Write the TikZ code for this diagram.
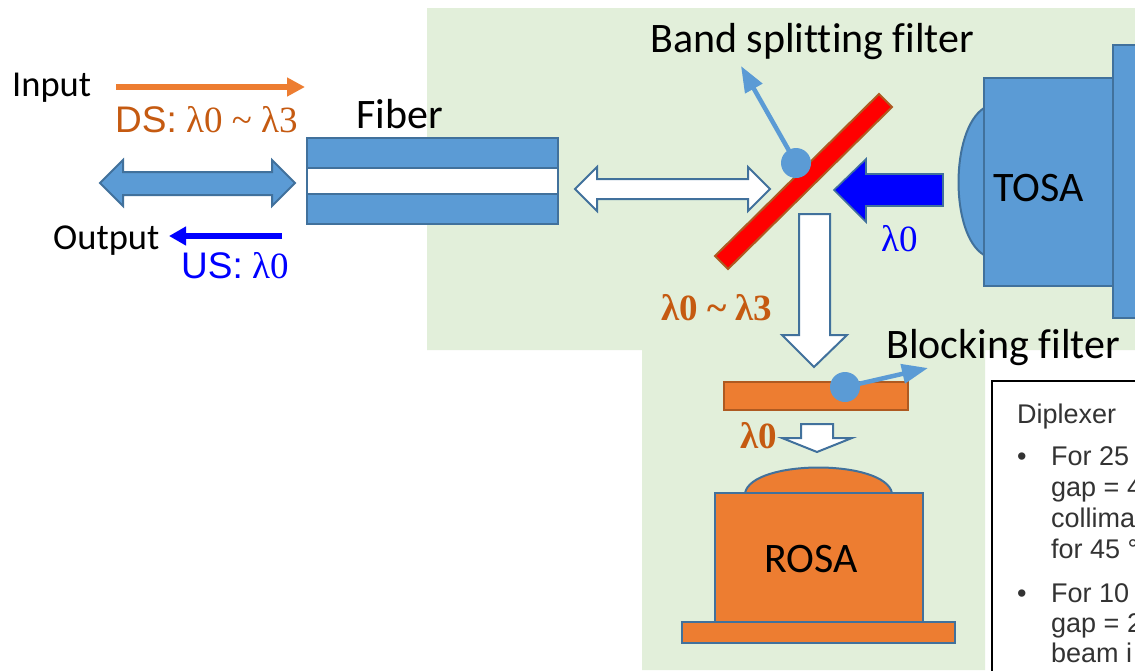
\documentclass[tikz,border=0pt]{standalone}
\usepackage{fontspec}
\setmainfont{Carlito}[Ligatures=NoCommon]
\newfontfamily\arialfont{Liberation Sans}
\newfontfamily\timesfont{Liberation Serif}
\usetikzlibrary{arrows.meta}
\definecolor{bluefill}{HTML}{5B9BD5}
\definecolor{blueline}{HTML}{41719C}
\definecolor{orangefill}{HTML}{ED7D31}
\definecolor{orangeline}{HTML}{AE5A21}
\definecolor{orangetext}{HTML}{C55A11}
\definecolor{greenback}{HTML}{E2EFDA}
\definecolor{purewhite}{HTML}{FFFFFF}
\definecolor{pureblue}{HTML}{0000FF}
\definecolor{boxtext}{HTML}{333333}
\newcommand{\wavetilde}{\char`\~}
\tikzset{
  label/.style={anchor=base west,inner sep=0pt,font=\fontsize{42}{46}\selectfont},
  sidelabel/.style={anchor=base west,inner sep=0pt,font=\fontsize{36.5}{40}\selectfont},
  wave/.style={anchor=base west,inner sep=0pt,font=\fontsize{37}{40}\selectfont\timesfont},
  boldwave/.style={anchor=base west,inner sep=0pt,text=orangetext,font=\fontsize{37}{40}\selectfont\timesfont\bfseries},
  boxline/.style={anchor=base west,inner sep=0pt,text=boxtext,font=\fontsize{27}{30}\selectfont\arialfont},
  bluebox/.style={fill=bluefill,draw=blueline,line width=2pt},
  orangebox/.style={fill=orangefill,draw=blueline,line width=2pt},
  whitearrow/.style={fill=purewhite,draw=blueline,line width=2pt},
  dot/.style={circle,fill=bluefill,inner sep=0pt,minimum size=30pt},
  pointer/.style={bluefill,line width=4.5pt,-{Triangle[length=26pt,width=19pt]},shorten <=-2pt},
}
\begin{document}
\begin{tikzpicture}[x=1pt,y=-1pt]
  \useasboundingbox (0,0) rectangle (1135,670);
  \clip (0,0) rectangle (1135,670);
  \fill[white] (0,0) rectangle (1135,670);

  % Green area
  \fill[greenback] (427,8) -- (1135,8) -- (1135,350) -- (985,350) -- (985,670) -- (642,670) -- (642,350) -- (427,350) -- cycle;

  % Input and output
  \node[sidelabel] (input) at (12,96) {Input};
  \node[sidelabel] (output) at (53,249) {Output};
  \coordinate (dsstart) at (116,87);
  \coordinate (dsend) at (305,87);
  \coordinate (usstart) at (282,236);
  \coordinate (usend) at (169,236);
  \draw[orangefill,line width=5.5pt,-{Triangle[length=18pt,width=18pt]}] (dsstart) -- (dsend);
  \draw[pureblue,line width=6pt,-{Triangle[length=17pt,width=18pt]}] (usstart) -- (usend);
  \node[wave,text=orangetext] (dslabel) at (115,132) {{\arialfont DS:} λ0 \wavetilde{} λ3};
  \node[wave,text=pureblue] (uslabel) at (181,278) {{\arialfont US:} λ0};

  % Double arrow left of the fiber
  \draw[bluebox] (100,183) -- (123,160) -- (123,172) -- (272,172) -- (272,160) -- (295,183) -- (272,206) -- (272,195) -- (123,195) -- (123,206) -- cycle;

  % Fiber
  \node[label] (fiberlabel) at (356,128) {Fiber};
  \draw[bluebox] (307,138) rectangle (558,224);
  \draw[whitearrow] (307,168) rectangle (558,194);

  % Double arrow to the filter
  \draw[whitearrow] (575,189) -- (597,167) -- (597,179) -- (748,179) -- (748,167) -- (770,189) -- (748,211) -- (748,199) -- (597,199) -- (597,211) -- cycle;

  % Band splitting filter
  \draw[fill=red,draw=orangeline,line width=2pt] (879,94) -- (892,107) -- (728,269) -- (715,256) -- cycle;
  \node[label] (bandlabel) at (650,52) {Band splitting filter};
  \coordinate (bandtip) at (741,66);
  \node[dot] (banddot) at (796,163) {};
  \draw[pointer] (banddot) -- (bandtip);

  % TOSA
  \draw[bluebox] (984,108) .. controls (950,130) and (950,235) .. (984,255) -- cycle;
  \draw[bluebox] (984,78) rectangle (1113,286);
  \draw[bluebox] (1113,45) rectangle (1145,318);
  \node[label] (tosalabel) at (993,201) {TOSA};

  % Blue arrow from TOSA
  \draw[fill=pureblue,draw=blueline,line width=1.6pt] (943,174) -- (866,174) -- (866,159) -- (834,190) -- (866,222) -- (866,206) -- (943,206) -- cycle;
  \node[wave,text=pureblue] (tosawave) at (881,251) {λ0};

  % White arrow down
  \draw[whitearrow] (799,214) -- (830,214) -- (830,335) -- (847,335) -- (814,367) -- (782,335) -- (799,335) -- cycle;
  \node[boldwave] (downwave) at (661,320) {λ0 \wavetilde{} λ3};

  % Blocking filter
  \draw[fill=orangefill,draw=orangeline,line width=2pt] (724,382) rectangle (908,410);
  \node[label] (blocklabel) at (886,358) {Blocking filter};
  \coordinate (blocktip) at (928,368);
  \node[dot] (blockdot) at (845,387) {};
  \draw[pointer] (blockdot) -- (blocktip);

  % Small white arrow
  \node[boldwave] (rosawave) at (740,448) {λ0};
  \draw[whitearrow] (801,424) -- (833,424) -- (833,438) -- (852,438) -- (817,452) -- (782,438) -- (801,438) -- cycle;

  % ROSA
  \draw[orangebox] (745,493) .. controls (752,459) and (885,459) .. (892,493) -- cycle;
  \draw[orangebox] (715,493) rectangle (923,622);
  \draw[orangebox] (682,622) rectangle (955,643);
  \node[label] (rosalabel) at (764,572) {ROSA};

  % Text box
  \draw[fill=white,draw=black,line width=1.5pt] (992,381) rectangle (1150,680);
  \node[boxline] (boxtitle) at (1017,423) {Diplexer};
  \node[boxline] (bulletone) at (1017,465) {•};
  \node[boxline] (lineone) at (1051,465) {For 25};
  \node[boxline] (linetwo) at (1051,496) {gap = 4};
  \node[boxline] (linethree) at (1051,527) {collima};
  \node[boxline] (linefour) at (1051,558) {for 45 °};
  \node[boxline] (bullettwo) at (1017,602) {•};
  \node[boxline] (linefive) at (1051,602) {For 10};
  \node[boxline] (linesix) at (1051,632) {gap = 2};
  \node[boxline] (lineseven) at (1051,662) {beam i};
\end{tikzpicture}
\end{document}
